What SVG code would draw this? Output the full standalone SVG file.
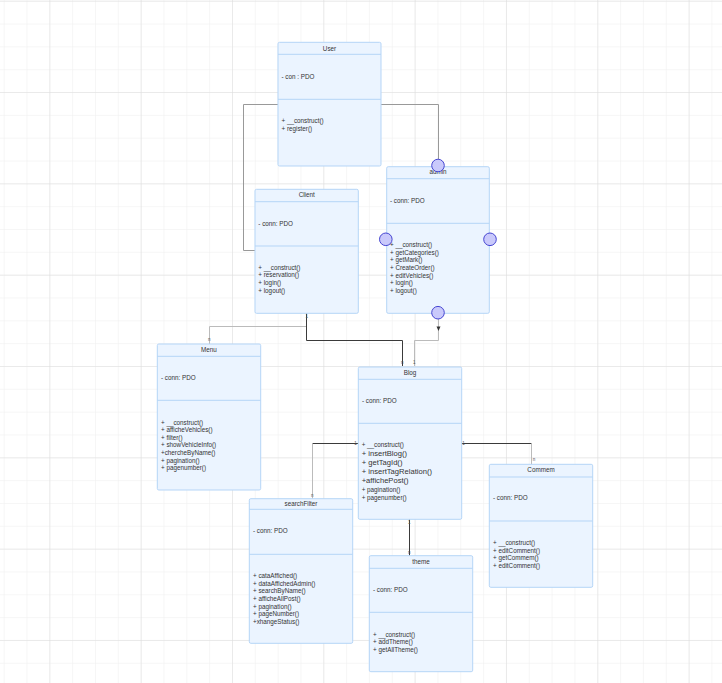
<svg xmlns="http://www.w3.org/2000/svg" width="722" height="683" viewBox="0 0 722 683">
<style>
.box{fill:#ebf4ff;stroke:#b5d5f7;stroke-width:1}
.sep{stroke:#b5d5f7;stroke-width:1}
.t{font-family:"Liberation Sans",Arial,sans-serif;font-size:6.3px;fill:#333}
.ttl{font-family:"Liberation Sans",Arial,sans-serif;font-size:6.3px;fill:#333;text-anchor:middle}
.big{font-size:7.6px}
.lbl{font-family:"Liberation Sans",Arial,sans-serif;font-size:4.5px;fill:#555;text-anchor:middle}
.dk{fill:none;stroke:#3a3a3a;stroke-width:1}
.lt{fill:none;stroke:#bbbbbb;stroke-width:1}
.md{fill:none;stroke:#999999;stroke-width:1}
.port{fill:#c9c9fb;stroke:#4646d2;stroke-width:1}
</style>
<defs>
<pattern id="minor" x="-42" y="0.7" width="22.83" height="22.83" patternUnits="userSpaceOnUse">
<path d="M0,0 H22.83 M0,0 V22.83" stroke="#eeeeee" stroke-width="1" fill="none"/>
</pattern>
<pattern id="major" x="-42" y="0.7" width="91.33" height="91.33" patternUnits="userSpaceOnUse">
<path d="M0,0 H91.33 M0,0 V91.33" stroke="#dddddd" stroke-width="1" fill="none"/>
</pattern>
</defs>
<rect width="722" height="683" fill="#ffffff"/>
<rect width="722" height="683" fill="url(#minor)"/>
<rect width="722" height="683" fill="url(#major)"/>

<g id="connectors">
<path class="md" d="M278,104.5 H243.5 V250.5 H255"/>
<path class="md" d="M381,104.5 H438.5 V159"/>
<path class="lt" d="M306.5,326.5 H209.5 V344"/>
<path class="dk" d="M306.5,313.3 V340.5 H402.5 V366"/>
<path class="lt" d="M414.5,366 V340.5 H438.5 V319"/>
<path d="M436.5,326.5 L440.5,326.5 L438.5,331 Z" fill="#333"/>
<path class="dk" d="M358.3,443.5 H312.5"/>
<path class="lt" d="M312.5,443.5 V498.7"/>
<path class="dk" d="M461.7,443.5 H531.5"/>
<path class="lt" d="M531.5,443.5 V464.3"/>
<path class="dk" d="M409.5,519.3 V555.7"/>
<text class="lbl" x="306.7" y="318">1</text>
<text class="lbl" x="402.3" y="364">n</text>
<text class="lbl" x="209.3" y="341">n</text>
<text class="lbl" x="414.3" y="364">1</text>
<text class="lbl" x="355.5" y="444.5">1</text>
<text class="lbl" x="312.3" y="497">n</text>
<text class="lbl" x="463.5" y="444.5">1</text>
<text class="lbl" x="534" y="461">n</text>
<text class="lbl" x="409.3" y="524">1</text>
<text class="lbl" x="409.3" y="554">n</text>
</g>

<g id="User">
<rect class="box" x="278" y="42.3" width="103" height="123.7" rx="1.5"/>
<line class="sep" x1="278" y1="54.3" x2="381" y2="54.3"/>
<line class="sep" x1="278" y1="99.3" x2="381" y2="99.3"/>
<text class="ttl" x="329.5" y="50.5">User</text>
<text class="t" x="281.5" y="78.9">- con : PDO</text>
<text class="t" x="281.5" y="122.9">+ __construct()</text>
<text class="t" x="281.5" y="130.5">+ register()</text>
</g>

<g id="Client">
<rect class="box" x="255" y="189.3" width="103.3" height="124" rx="1.5"/>
<line class="sep" x1="255" y1="201.7" x2="358.3" y2="201.7"/>
<line class="sep" x1="255" y1="246" x2="358.3" y2="246"/>
<text class="ttl" x="306.7" y="196.5">Client</text>
<text class="t" x="258.3" y="225.5">- conn: PDO</text>
<text class="t" x="258.3" y="269.5">+ __construct()</text>
<text class="t" x="258.3" y="277.2">+ reservation()</text>
<text class="t" x="258.3" y="284.9">+ login()</text>
<text class="t" x="258.3" y="292.5">+ logout()</text>
</g>

<g id="admin">
<rect class="box" x="386.7" y="166.7" width="102.6" height="146.6" rx="1.5"/>
<line class="sep" x1="386.7" y1="178.7" x2="489.3" y2="178.7"/>
<line class="sep" x1="386.7" y1="223.3" x2="489.3" y2="223.3"/>
<text class="ttl" x="438" y="174.2">admin</text>
<text class="t" x="390" y="202.9">- conn: PDO</text>
<text class="t" x="390" y="246.9">+ __construct()</text>
<text class="t" x="390" y="254.5">+ getCategories()</text>
<text class="t" x="390" y="262.2">+ getMark()</text>
<text class="t" x="390" y="269.9">+ CreateOrder()</text>
<text class="t" x="390" y="277.5">+ editVehicles()</text>
<text class="t" x="390" y="285.2">+ login()</text>
<text class="t" x="390" y="292.9">+ logout()</text>
<circle class="port" cx="438" cy="165.5" r="6.3"/>
<circle class="port" cx="385.8" cy="239.3" r="6.3"/>
<circle class="port" cx="490" cy="239.3" r="6.3"/>
<circle class="port" cx="438" cy="312.7" r="6.3"/>
</g>

<g id="Menu">
<rect class="box" x="157.3" y="344" width="103.4" height="146" rx="1.5"/>
<line class="sep" x1="157.3" y1="356.3" x2="260.7" y2="356.3"/>
<line class="sep" x1="157.3" y1="400.3" x2="260.7" y2="400.3"/>
<text class="ttl" x="209" y="351.5">Menu</text>
<text class="t" x="161" y="379.9">- conn: PDO</text>
<text class="t" x="161" y="424.5">+ __construct()</text>
<text class="t" x="161" y="431.9">+ afficheVehicles()</text>
<text class="t" x="161" y="439.5">+ filter()</text>
<text class="t" x="161" y="447.2">+ showVehicleInfo()</text>
<text class="t" x="161" y="454.9">+chercheByName()</text>
<text class="t" x="161" y="462.5">+ pagination()</text>
<text class="t" x="161" y="470.2">+ pagenumber()</text>
</g>

<g id="Blog">
<rect class="box" x="358.3" y="367" width="103.4" height="152.3" rx="1.5"/>
<line class="sep" x1="358.3" y1="379.3" x2="461.7" y2="379.3"/>
<line class="sep" x1="358.3" y1="423.3" x2="461.7" y2="423.3"/>
<text class="ttl" x="410" y="374.5">Blog</text>
<text class="t" x="362" y="402.9">- conn: PDO</text>
<text class="t" x="361.7" y="447">+ __construct()</text>
<text class="t big" x="361.7" y="456">+ insertBlog()</text>
<text class="t big" x="361.7" y="464.8">+ getTagId()</text>
<text class="t big" x="361.7" y="473.8">+ insertTagRelation()</text>
<text class="t big" x="361.7" y="482.8">+affichePost()</text>
<text class="t" x="361.7" y="491.9">+ pagination()</text>
<text class="t" x="361.7" y="499.9">+ pagenumber()</text>
</g>

<g id="searchFilter">
<rect class="box" x="249.3" y="498.7" width="103.4" height="144.6" rx="1.5"/>
<line class="sep" x1="249.3" y1="509.3" x2="352.7" y2="509.3"/>
<line class="sep" x1="249.3" y1="554.3" x2="352.7" y2="554.3"/>
<text class="ttl" x="301" y="505.5">searchFilter</text>
<text class="t" x="253" y="532.9">- conn: PDO</text>
<text class="t" x="253" y="577.9">+ cataAffiched()</text>
<text class="t" x="253" y="585.5">+ dataAffichedAdmin()</text>
<text class="t" x="253" y="593.2">+ searchByName()</text>
<text class="t" x="253" y="600.9">+ afficheAllPost()</text>
<text class="t" x="253" y="608.5">+ pagination()</text>
<text class="t" x="253" y="616.2">+ pageNumber()</text>
<text class="t" x="253" y="623.9">+xhangeStatus()</text>
</g>

<g id="Commem">
<rect class="box" x="489.3" y="464.3" width="103.4" height="123" rx="1.5"/>
<line class="sep" x1="489.3" y1="477" x2="592.7" y2="477"/>
<line class="sep" x1="489.3" y1="521" x2="592.7" y2="521"/>
<text class="ttl" x="541" y="472.2">Commem</text>
<text class="t" x="493" y="500.2">- conn: PDO</text>
<text class="t" x="493" y="544.9">+ __construct()</text>
<text class="t" x="493" y="552.5">+ editComment()</text>
<text class="t" x="493" y="559.9">+ getCommem()</text>
<text class="t" x="493" y="567.5">+ editComment()</text>
</g>

<g id="theme">
<rect class="box" x="369.3" y="555.7" width="103.4" height="116" rx="1.5"/>
<line class="sep" x1="369.3" y1="568.3" x2="472.7" y2="568.3"/>
<line class="sep" x1="369.3" y1="612.3" x2="472.7" y2="612.3"/>
<text class="ttl" x="421" y="563.9">theme</text>
<text class="t" x="373" y="592.2">- conn: PDO</text>
<text class="t" x="373" y="636.5">+ __construct()</text>
<text class="t" x="373" y="644.2">+ addTheme()</text>
<text class="t" x="373" y="651.9">+ getAllTheme()</text>
</g>
</svg>
